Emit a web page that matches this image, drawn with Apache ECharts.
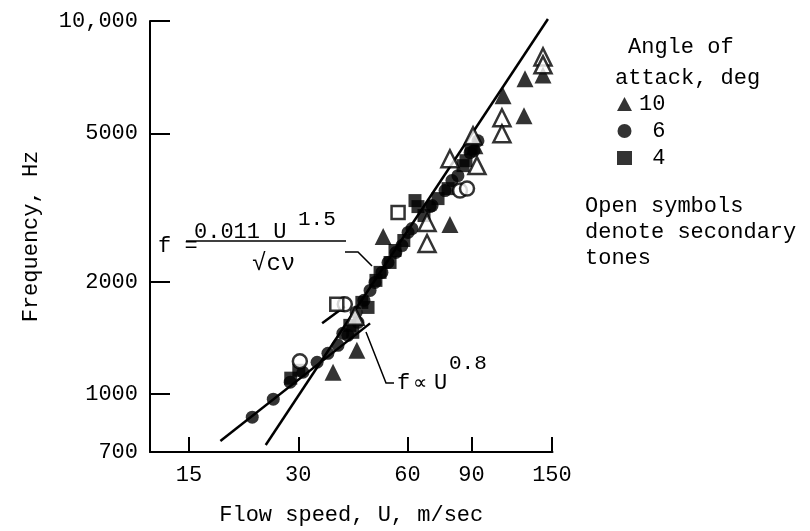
<!DOCTYPE html>
<html><head><meta charset="utf-8">
<script src="https://cdn.jsdelivr.net/npm/echarts@6/dist/echarts.min.js"></script>
<style>html,body{margin:0;padding:0;background:#fff}#c{width:810px;height:531px}</style>
</head><body><div id="c"></div>
<script>
// Tick values
const xTicks = [15, 30, 60, 90, 150];
const yTicks = [700, 1000, 2000, 5000, 10000];
const yTickMarks = [1000, 2000, 5000, 10000];

// Data: [flow speed U (m/sec), frequency (Hz)]
const aoa10Filled = [[37.4,1145],[43.5,1311],[51.4,2645],[78.5,2848],[92.0,4633],[110.0,6303],[125.6,5572],[126.4,6998],[141.7,7171]];
const aoa10Open = [[43.0,1617],[67.9,2884],[67.9,2533],[78.5,4276],[90.9,4926],[93.2,4097],[109.2,5503],[109.2,4988],[141.7,8013],[141.7,7629]];
const aoa6Filled = [[22.4,868],[25.6,970],[28.5,1077],[30.9,1145],[33.8,1218],[36.2,1287],[38.6,1352],[39.8,1456],[41.1,1438],[43.3,1657],[43.8,1558],[45.5,1784],[47.3,1897],[48.8,1993],[51.0,2120],[53.0,2254],[55.7,2397],[57.9,2502],[60.2,2713],[61.7,2779],[69.2,3182],[70.1,3201],[76.1,3512],[79.5,3735],[82.6,3851],[89.2,4437],[91.4,4492],[93.8,4777]];
const aoa6Open = [[30.3,1225],[40.3,1741],[83.7,3512],[87.5,3555]];
const aoa4Filled = [[28.6,1104],[30.1,1159],[41.6,1529],[42.4,1465],[44.9,1762],[46.7,1708],[49.1,2018],[50.4,2120],[53.7,2254],[55.4,2427],[58.6,2581],[62.9,3302],[64.1,3182],[66.6,3011],[72.8,3343],[77.6,3555],[85.3,4097],[86.9,4224],[89.8,4548]];
const aoa4Open = [[38.3,1741],[56.5,3067]];
// Fitted lines
const fitU15 = [[24.4,731],[146.2,10123]];
const fitU08 = [[18.3,749],[47.3,1548]];
const fitU08Upper = [[34.9,1548],[40.3,1719]];

const FONT = '"Liberation Mono", "DejaVu Sans Mono", monospace';
const f22 = '22px ' + FONT;
const f20 = '21px ' + FONT;

const chart = echarts.init(document.getElementById('c'), null, {renderer:'canvas'});

function scat(name, data, symbol, size, open) {
  return {
    type:'scatter', name: name, data: data, symbol: symbol, symbolSize: size,
    itemStyle: open ? {color:'#fff', borderColor:'#000', borderWidth:2.5} : {color:'#000', borderColor:'#000', borderWidth:0},
    emphasis:{disabled:true}, z: open ? 4 : 3
  };
}
function fit(data) {
  return {type:'line', data: data, symbol:'none', clip:false, lineStyle:{color:'#000', width:2.5}, z:2, emphasis:{disabled:true}};
}

const option = {
  animation:false,
  backgroundColor:'#fff',
  grid:{left:150, top:21, right:257.5, bottom:78},
  xAxis:{
    type:'log', logBase:10, min:11.71, max:150.5,
    name:'Flow speed, U, m/sec', nameLocation:'middle', nameGap:52,
    nameTextStyle:{fontFamily:FONT, fontSize:22, color:'#000'},
    axisLine:{show:true, onZero:false, lineStyle:{color:'#000', width:2}},
    axisTick:{show:true, inside:true, length:15, lineStyle:{color:'#000', width:2}, customValues: xTicks},
    axisLabel:{show:true, margin:12, fontFamily:FONT, fontSize:22, color:'#000', customValues: xTicks,
      formatter: v => String(Math.round(v))},
    splitLine:{show:false}, minorTick:{show:false}, minorSplitLine:{show:false}
  },
  yAxis:{
    type:'log', logBase:10, min:700, max:10000,
    name:'Frequency, Hz', nameLocation:'middle', nameGap:108,
    nameTextStyle:{fontFamily:FONT, fontSize:22, color:'#000'},
    axisLine:{show:true, onZero:false, lineStyle:{color:'#000', width:2}},
    axisTick:{show:true, inside:true, length:20, lineStyle:{color:'#000', width:2}, customValues: yTickMarks},
    axisLabel:{show:true, margin:12, fontFamily:FONT, fontSize:22, color:'#000', customValues: yTicks,
      formatter: v => { const r = Math.round(v); return r === 10000 ? '10,000' : String(r); }},
    splitLine:{show:false}, minorTick:{show:false}, minorSplitLine:{show:false}
  },
  legend:{
    orient:'vertical', left:612, top:86, itemGap:1, itemWidth:15, itemHeight:14,
    selectedMode:false, data:['10','6','4'],
    textStyle:{fontFamily:FONT, fontSize:22, color:'#000', lineHeight:26, padding:[0,0,0,2]},
    formatter: n => (n.length < 2 ? ' ' + n : n)
  },
  series:[
    fit(fitU15), fit(fitU08), fit(fitU08Upper),
    scat('10', aoa10Filled, 'triangle', 17, false),
    scat('6', aoa6Filled, 'circle', 13, false),
    scat('4', aoa4Filled, 'rect', 13, false),
    scat('10 secondary', aoa10Open, 'triangle', 17, true),
    scat('6 secondary', aoa6Open, 'circle', 14, true),
    scat('4 secondary', aoa4Open, 'rect', 13, true)
  ],
  graphic:[
    {type:'text', x:628, y:47, style:{text:'Angle of', font:f22, fill:'#000', align:'left', verticalAlign:'middle'}},
    {type:'text', x:615, y:78, style:{text:'attack, deg', font:f22, fill:'#000', align:'left', verticalAlign:'middle'}},
    {type:'text', x:585, y:193, style:{text:'Open symbols\ndenote secondary\ntones', font:f22, lineHeight:26, fill:'#000', align:'left', verticalAlign:'top'}},
    {type:'text', x:158, y:246, style:{text:'f =', font:f22, fill:'#000', align:'left', verticalAlign:'middle'}},
    {type:'text', x:194, y:232, style:{text:'0.011 U', font:f22, fill:'#000', align:'left', verticalAlign:'middle'}},
    {type:'text', x:298, y:219, style:{text:'1.5', font:f20, fill:'#000', align:'left', verticalAlign:'middle'}},
    {type:'line', shape:{x1:186, y1:241, x2:346, y2:241}, style:{stroke:'#000', lineWidth:1.5}},
    {type:'text', x:252, y:264, style:{text:'\u221Acν', font:'24px ' + FONT, fill:'#000', align:'left', verticalAlign:'middle'}},
    {type:'polyline', shape:{points:[[345,252],[358,252],[372,266]]}, style:{stroke:'#000', lineWidth:1.5, fill:null}},
    {type:'polyline', shape:{points:[[366,332],[386,383],[394,383]]}, style:{stroke:'#000', lineWidth:1.5, fill:null}},
    {type:'text', x:397, y:383, style:{text:'f', font:f22, fill:'#000', align:'left', verticalAlign:'middle'}},
    {type:'text', x:413, y:384, style:{text:'\u221D', font:'20px "DejaVu Sans"', fill:'#000', align:'left', verticalAlign:'middle'}},
    {type:'text', x:434, y:383, style:{text:'U', font:f22, fill:'#000', align:'left', verticalAlign:'middle'}},
    {type:'text', x:449, y:363, style:{text:'0.8', font:f20, fill:'#000', align:'left', verticalAlign:'middle'}}
  ]
};
chart.setOption(option);
</script></body></html>
